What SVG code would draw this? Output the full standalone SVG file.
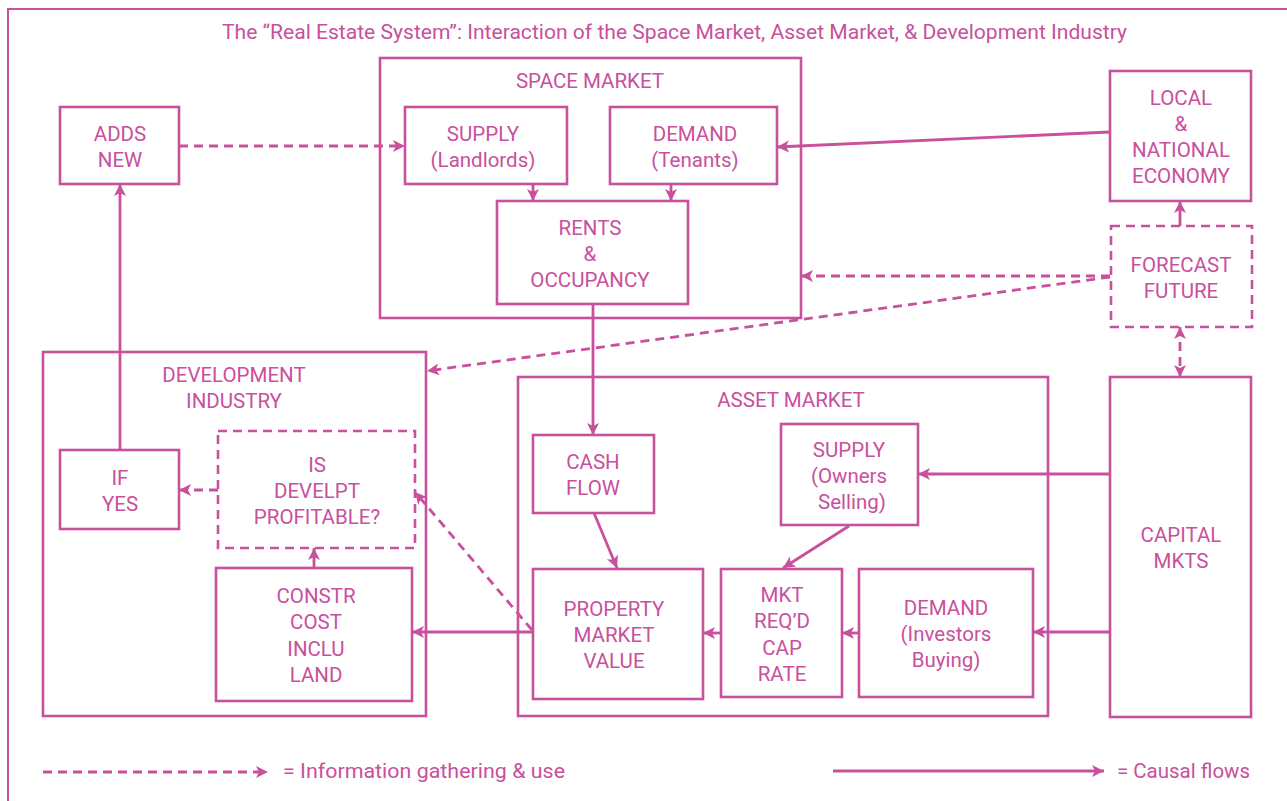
<svg xmlns="http://www.w3.org/2000/svg" width="1287" height="801" viewBox="0 0 1287 801">
<style>
.bx{fill:#fff;stroke:#c8509c;stroke-width:2.6}
.dbx{fill:#fff;stroke:#c8509c;stroke-width:2.6;stroke-dasharray:9 6}
.out{fill:none;stroke:#c8509c;stroke-width:2.6}
.t{font-family:Roboto,"Liberation Sans",sans-serif;font-size:20.5px;fill:#c8509c;text-anchor:middle}
.ts{font-family:Roboto,"Liberation Sans",sans-serif;font-size:21px;fill:#c8509c}
.c{fill:none;stroke:#c8509c;stroke-width:2.8;marker-end:url(#ah)}
.d{fill:none;stroke:#c8509c;stroke-width:2.8;stroke-dasharray:9 6;marker-end:url(#ah)}
</style>
<defs>
<marker id="ah" viewBox="-1 -7 14 14" markerWidth="14" markerHeight="14" refX="12" refY="0" orient="auto-start-reverse" markerUnits="userSpaceOnUse">
<path d="M0,-6 L12,0 L0,6 L3,0 z" fill="#c8509c"/>
</marker>
</defs>
<rect x="0" y="0" width="1287" height="801" fill="#fff"/>
<rect x="8" y="9" width="1300" height="820" fill="none" stroke="#c8509c" stroke-width="2"/>
<text class="ts" x="222" y="39" textLength="905" lengthAdjust="spacingAndGlyphs">The “Real Estate System”: Interaction of the Space Market, Asset Market, &amp; Development Industry</text>

<g id="space-market"><rect class="out" x="380" y="58" width="421" height="260"/><text class="t" x="590" y="88">SPACE MARKET</text></g>
<g id="development-industry"><rect class="out" x="43" y="352" width="383" height="364"/><text class="t" x="234" y="382">DEVELOPMENT</text><text class="t" x="234" y="408">INDUSTRY</text></g>
<g id="asset-market"><rect class="out" x="518" y="377" width="530" height="339"/><text class="t" x="791" y="407">ASSET MARKET</text></g>

<g id="adds-new"><rect class="bx" x="60" y="107" width="119" height="77"/><text class="t" x="120" y="141">ADDS</text><text class="t" x="120" y="167">NEW</text></g>
<g id="supply-landlords"><rect class="bx" x="405" y="107" width="162" height="77"/><text class="t" x="483" y="141">SUPPLY</text><text class="t" x="483" y="167">(Landlords)</text></g>
<g id="demand-tenants"><rect class="bx" x="610" y="107" width="167" height="77"/><text class="t" x="695" y="141">DEMAND</text><text class="t" x="695" y="167">(Tenants)</text></g>
<g id="rents-occupancy"><rect class="bx" x="497" y="201" width="191" height="103"/><text class="t" x="590" y="235">RENTS</text><text class="t" x="590" y="261">&amp;</text><text class="t" x="590" y="287">OCCUPANCY</text></g>
<g id="local-national-economy"><rect class="bx" x="1110" y="71" width="141" height="130"/><text class="t" x="1181" y="105">LOCAL</text><text class="t" x="1181" y="131">&amp;</text><text class="t" x="1181" y="157">NATIONAL</text><text class="t" x="1181" y="183">ECONOMY</text></g>
<g id="forecast-future"><rect class="dbx" x="1111" y="226" width="141" height="101"/><text class="t" x="1181" y="272">FORECAST</text><text class="t" x="1181" y="298">FUTURE</text></g>
<g id="capital-mkts"><rect class="bx" x="1110" y="377" width="141" height="340"/><text class="t" x="1181" y="542">CAPITAL</text><text class="t" x="1181" y="568">MKTS</text></g>
<g id="if-yes"><rect class="bx" x="60" y="450" width="119" height="79"/><text class="t" x="120" y="485">IF</text><text class="t" x="120" y="511">YES</text></g>
<g id="is-develpt-profitable"><rect class="dbx" x="218" y="431" width="197" height="117"/><text class="t" x="317" y="472">IS</text><text class="t" x="317" y="498">DEVELPT</text><text class="t" x="317" y="524">PROFITABLE?</text></g>
<g id="constr-cost"><rect class="bx" x="216" y="568" width="196" height="133"/><text class="t" x="316" y="603">CONSTR</text><text class="t" x="316" y="629">COST</text><text class="t" x="316" y="656">INCLU</text><text class="t" x="316" y="682">LAND</text></g>
<g id="cash-flow"><rect class="bx" x="533" y="435" width="121" height="78"/><text class="t" x="593" y="469">CASH</text><text class="t" x="593" y="495">FLOW</text></g>
<g id="supply-owners"><rect class="bx" x="781" y="424" width="137" height="101"/><text class="t" x="849" y="457">SUPPLY</text><text class="t" x="849" y="483">(Owners</text><text class="t" x="852" y="509">Selling)</text></g>
<g id="property-market-value"><rect class="bx" x="533" y="569" width="170" height="130"/><text class="t" x="614" y="616">PROPERTY</text><text class="t" x="614" y="642">MARKET</text><text class="t" x="614" y="668">VALUE</text></g>
<g id="mkt-cap-rate"><rect class="bx" x="721" y="569" width="121" height="128"/><text class="t" x="782" y="602">MKT</text><text class="t" x="782" y="628">REQ’D</text><text class="t" x="782" y="655">CAP</text><text class="t" x="782" y="681">RATE</text></g>
<g id="demand-investors"><rect class="bx" x="859" y="569" width="174" height="128"/><text class="t" x="946" y="615">DEMAND</text><text class="t" x="946" y="641">(Investors</text><text class="t" x="946" y="667">Buying)</text></g>

<g id="connectors">
<path class="d" d="M179,146 L405,146"/>
<path class="c" d="M120,450 L120,184"/>
<path class="c" d="M1110,132 L777,147"/>
<path class="c" d="M533,184 L533,201"/>
<path class="c" d="M671,184 L671,201"/>
<path class="c" d="M593,304 L593,435"/>
<path class="c" d="M1180,226 L1180,201"/>
<path class="d" style="marker-start:url(#ah)" d="M1180,327 L1180,377"/>
<path class="d" d="M1110,276 L801,276"/>
<path class="d" d="M1110,277 L427,371"/>
<path class="c" d="M1110,474 L918,474"/>
<path class="c" d="M1110,632 L1033,632"/>
<path class="c" d="M859,633 L842,633"/>
<path class="c" d="M721,633 L703,633"/>
<path class="c" d="M849,526 L783,568"/>
<path class="c" d="M594,513 L617,568"/>
<path class="c" d="M533,632 L412,632"/>
<path class="d" d="M532,630 L415,492"/>
<path class="d" d="M218,490 L179,490"/>
<path class="c" d="M314,568 L314,548"/>
</g>
<g id="legend">
<path class="d" d="M43,772 L268,772"/>
<text class="ts" x="283" y="778" textLength="282" lengthAdjust="spacingAndGlyphs">= Information gathering &amp; use</text>
<path class="c" d="M833,771 L1104,771"/>
<text class="ts" x="1117" y="778" textLength="133" lengthAdjust="spacingAndGlyphs">= Causal flows</text>
</g>
</svg>
